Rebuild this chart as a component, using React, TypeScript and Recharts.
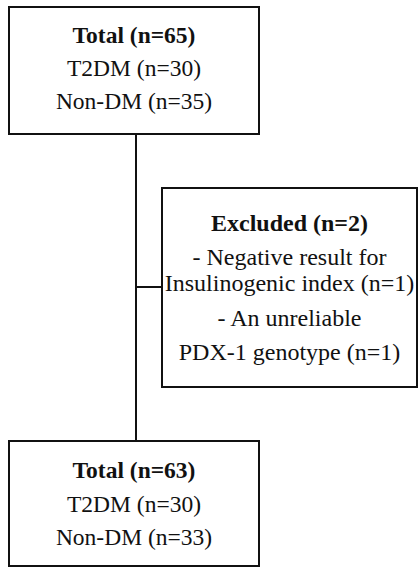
import {
  ComposedChart,
  XAxis,
  YAxis,
  ReferenceArea,
  ReferenceLine,
} from "recharts";

// box texts (first line is the bold title)
const BEFORE_LINES = ["Total (n=65)", "T2DM (n=30)", "Non-DM (n=35)"];
const EXCLUDED_LINES = [
  "Excluded (n=2)",
  "- Negative result for",
  "Insulinogenic index (n=1)",
  "- An unreliable",
  "PDX-1 genotype (n=1)",
];
const AFTER_LINES = ["Total (n=63)", "T2DM (n=30)", "Non-DM (n=33)"];

const W = 418;
const H = 568;
const FONT = "Liberation Serif";
const INK = "#111";

// layout in pixel space (axes map 1:1 to pixels)
const BOXES = [
  { x1: 9, x2: 259, y1: 7, y2: 134, lines: BEFORE_LINES, offsets: [36, 69, 101.5], size: 23.5 },
  { x1: 162, x2: 417, y1: 188, y2: 387, lines: EXCLUDED_LINES, offsets: [43, 77, 103, 138, 172], size: 24 },
  { x1: 9, x2: 259, y1: 441, y2: 566, lines: AFTER_LINES, offsets: [37, 71, 104], size: 23.5 },
];

function makeBoxShape(lines: string[], offsets: number[], size: number) {
  // eslint-disable-next-line @typescript-eslint/no-explicit-any
  return function BoxShape(props: any) {
    const { x = 0, y = 0, width = 0, height = 0 } = props;
    const cx = x + width / 2;
    return (
      <g>
        <rect x={x} y={y} width={width} height={height} fill="#fff" stroke={INK} strokeWidth={2} />
        {lines.map((t, i) => (
          <text
            key={i}
            x={cx}
            y={y + offsets[i]}
            textAnchor="middle"
            fontFamily={FONT}
            fontSize={size}
            fontWeight={i === 0 ? 700 : 400}
            fill={INK}
            stroke="none"
          >
            {t}
          </text>
        ))}
      </g>
    );
  };
}

export default function App() {
  return (
    <div style={{ position: "absolute", left: 0, top: 0, background: "#fff" }}>
      <ComposedChart
        width={W}
        height={H}
        data={[{ x: 0, y: 0 }]}
        margin={{ top: 0, right: 0, bottom: 0, left: 0 }}
      >
        <XAxis type="number" dataKey="x" domain={[0, W]} hide allowDataOverflow />
        <YAxis type="number" dataKey="y" domain={[0, H]} reversed hide allowDataOverflow />

        {/* connectors */}
        <ReferenceLine
          segment={[
            { x: 136, y: 134 },
            { x: 136, y: 441 },
          ]}
          stroke={INK}
          strokeWidth={2}
          ifOverflow="visible"
        />
        <ReferenceLine
          segment={[
            { x: 136, y: 287 },
            { x: 162, y: 287 },
          ]}
          stroke={INK}
          strokeWidth={2}
          ifOverflow="visible"
        />

        {BOXES.map((b, i) => (
          <ReferenceArea
            key={i}
            x1={b.x1}
            x2={b.x2}
            y1={b.y1}
            y2={b.y2}
            ifOverflow="visible"
            shape={makeBoxShape(b.lines, b.offsets, b.size)}
          />
        ))}
      </ComposedChart>
    </div>
  );
}
